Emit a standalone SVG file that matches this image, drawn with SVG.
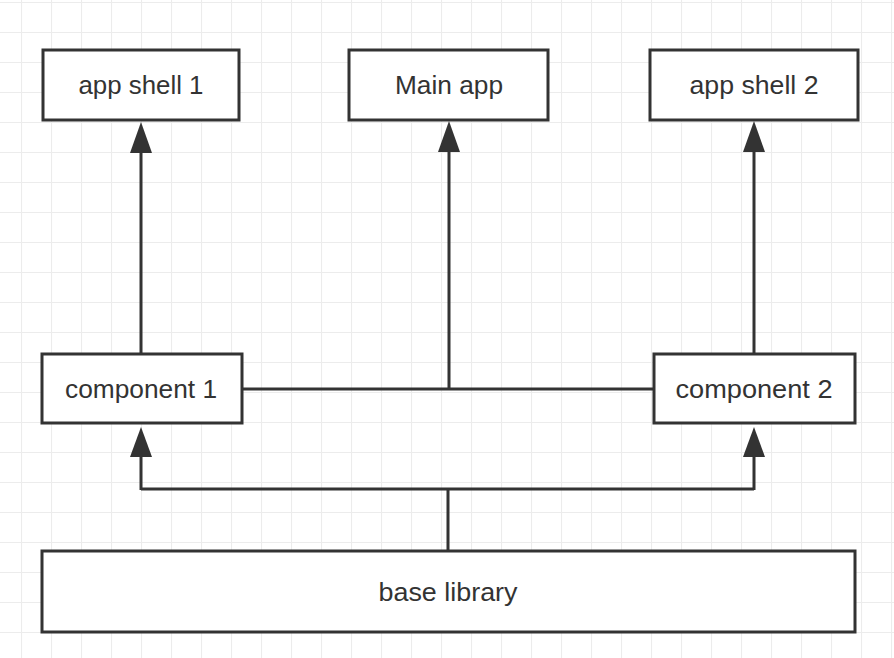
<svg xmlns="http://www.w3.org/2000/svg" width="894" height="658" viewBox="0 0 894 658">
<defs>
<pattern id="grid" x="21" y="2" width="30" height="30" patternUnits="userSpaceOnUse">
<path d="M0.5 0V30M0 0.5H30" fill="none" stroke="#ececec" stroke-width="1.2"/>
</pattern>
</defs>
<style>
.box{fill:#fff;stroke:#333;stroke-width:3}
.lbl{font-family:"Liberation Sans",Arial,sans-serif;font-size:25px;fill:#333;text-anchor:middle}
.ln{fill:none;stroke:#333;stroke-width:3}
.head{fill:#333}
</style>
<rect width="894" height="658" fill="#fff"/>
<rect width="894" height="658" fill="url(#grid)"/>
<g id="connectors">
<path class="ln" d="M141 353V150"/>
<path class="head" d="M141 122L130 153H152Z"/>
<path class="ln" d="M242 389H654M449 389V150"/>
<path class="head" d="M449 121L438 152H460Z"/>
<path class="ln" d="M754 353V150"/>
<path class="head" d="M754 121L743 152H765Z"/>
<path class="ln" d="M448 551V489M141 489H754M141 490V455M754 490V455"/>
<path class="head" d="M141 427L130 457H152Z"/>
<path class="head" d="M754 427L743 457H765Z"/>
</g>
<g id="app-shell-1"><rect class="box" x="43" y="50" width="196" height="70"/><text class="lbl" x="141" y="94" textLength="125" lengthAdjust="spacingAndGlyphs">app shell 1</text></g>
<g id="main-app"><rect class="box" x="349" y="50" width="199" height="70"/><text class="lbl" x="449" y="94" textLength="108" lengthAdjust="spacingAndGlyphs">Main app</text></g>
<g id="app-shell-2"><rect class="box" x="650" y="50" width="208" height="70"/><text class="lbl" x="754" y="94" textLength="129" lengthAdjust="spacingAndGlyphs">app shell 2</text></g>
<g id="component-1"><rect class="box" x="42" y="354" width="200" height="69"/><text class="lbl" x="141" y="398" textLength="152" lengthAdjust="spacingAndGlyphs">component 1</text></g>
<g id="component-2"><rect class="box" x="654" y="354" width="201" height="69"/><text class="lbl" x="754" y="398" textLength="157" lengthAdjust="spacingAndGlyphs">component 2</text></g>
<g id="base-library"><rect class="box" x="42" y="551" width="813" height="81"/><text class="lbl" x="448" y="601" textLength="139" lengthAdjust="spacingAndGlyphs">base library</text></g>
</svg>
